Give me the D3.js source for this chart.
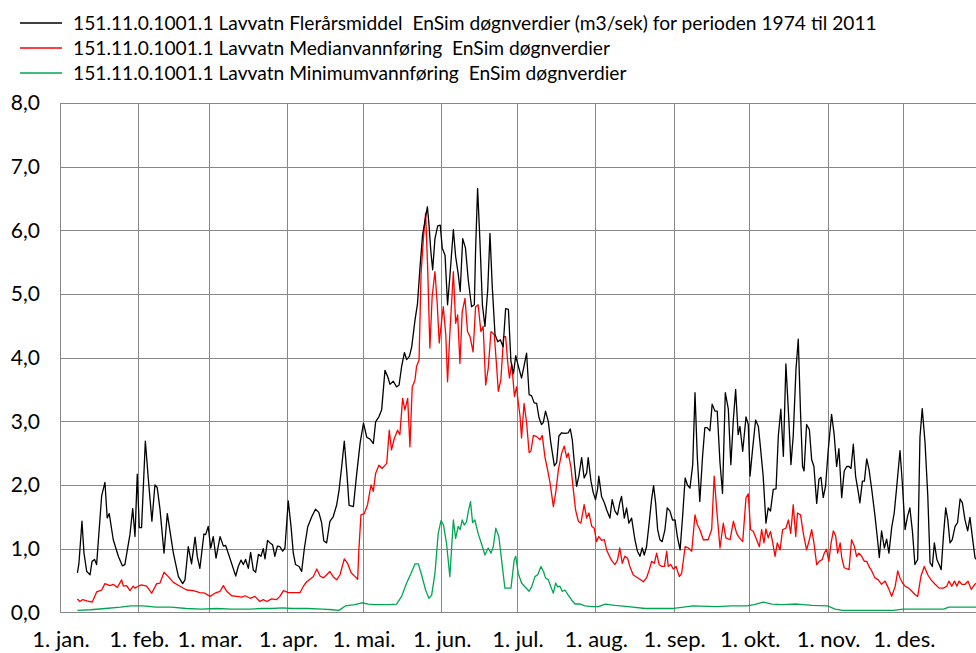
<!DOCTYPE html>
<html lang="no">
<head>
<meta charset="UTF-8" />
<script src="https://d3js.org/d3.v7.min.js"></script>
<title>Lavvatn døgnverdier</title>
<style>
  body { margin: 0; background: #fff; }
  text { font-family: Lato, "Open Sans", sans-serif; fill: #000; }
</style>
</head>
<body>
<script>
// day of year (0 = 1. jan.), value m3/s
var flerarsmiddel = [[6.9,0.62],[7.5,0.77],[8.7,1.43],[9.5,0.93],[10.6,0.64],[11.9,0.59],[12.7,0.80],[13.7,0.83],[14.5,0.75],[16.5,1.83],[17.8,2.04],[18.7,1.48],[19.5,1.55],[21.1,1.14],[23.1,0.88],[24.7,0.73],[25.7,0.75],[27.7,1.22],[28.8,1.63],[29.7,1.19],[30.6,2.17],[31.4,1.33],[32.3,1.33],[33.8,2.69],[35,2.09],[36.4,1.43],[37.6,2.0],[38.5,1.96],[39.6,1.62],[41.2,0.93],[42.5,1.55],[44.9,0.93],[46.9,0.56],[48.6,0.45],[49.5,0.51],[50.8,1.03],[52.1,0.76],[53.5,1.18],[54.4,0.87],[55.4,0.69],[57,1.23],[57.7,1.22],[58.7,1.35],[59.7,1.01],[60.7,1.19],[61.8,0.85],[63.4,1.19],[64.7,1.04],[65.6,1.05],[67.3,0.85],[68.6,0.69],[69.6,0.57],[70.6,0.72],[71.7,0.82],[72.6,0.75],[73.5,0.83],[74.6,0.69],[75.5,0.94],[76.6,0.66],[77.5,0.63],[78.6,0.91],[79.6,0.88],[80.5,1.0],[81.2,0.84],[82.2,1.13],[83.2,1.09],[84.2,1.06],[85.1,0.88],[86.1,1.04],[87.1,1.03],[88.2,0.96],[89.1,1.01],[90.4,1.75],[91.5,1.35],[92.4,0.93],[93.3,0.75],[94.7,0.72],[95.7,0.64],[96.8,1.01],[98.1,1.34],[99.7,1.5],[101.2,1.62],[102.5,1.57],[103.6,1.41],[104.5,1.12],[105.6,1.09],[106.9,1.43],[108.2,1.5],[109.6,1.69],[110.5,1.91],[111.6,2.3],[112.6,2.69],[113.6,2.2],[114.5,1.68],[116.2,1.66],[117.5,2.17],[118.9,2.67],[120.2,2.97],[121.5,2.75],[122.8,2.72],[124.1,2.65],[125,2.99],[126.3,3.07],[127.4,3.18],[128.7,3.8],[129.8,3.7],[130.7,3.58],[132,3.63],[133.3,3.54],[134.3,3.57],[135.3,3.86],[136.4,4.08],[137.3,3.97],[138.4,4.02],[139.3,4.17],[140.6,4.59],[141.6,4.85],[142.6,5.43],[143.6,5.93],[144.6,6.16],[145.5,6.37],[146.1,6.11],[146.9,5.66],[147.6,5.38],[148.5,5.87],[149.6,6.07],[150.6,6.08],[151.4,5.72],[152.5,5.61],[153.5,4.83],[154.4,5.27],[155.8,6.01],[156.7,5.59],[157.7,5.32],[158.5,5.04],[159.5,5.87],[160.6,5.72],[161.7,5.22],[163,4.8],[164.1,4.83],[164.6,5.69],[165.4,6.66],[166.3,5.85],[167.3,4.83],[168.3,4.49],[169.4,5.06],[170.3,5.95],[171.2,5.12],[172.3,4.36],[173.4,4.25],[174.4,4.28],[175.5,4.17],[176.5,4.77],[177.6,4.76],[178.6,3.94],[179.6,3.75],[180.5,4.03],[181.5,3.87],[182.8,3.68],[183.8,3.87],[184.8,4.07],[185.8,3.42],[186.8,3.4],[187.8,3.29],[188.8,3.28],[189.7,3.06],[190.7,2.95],[191.4,2.98],[192.3,3.16],[193.4,3.0],[194.4,2.66],[195.8,2.3],[196.7,2.35],[197.6,2.77],[198.7,2.82],[200,2.81],[201.3,2.82],[202.1,2.88],[202.9,2.71],[203.7,2.35],[204.6,1.98],[205.5,2.14],[206.6,2.43],[207.6,2.11],[208.6,2.19],[209.2,2.43],[210.3,2.06],[211.2,1.88],[212.1,1.77],[212.9,1.93],[213.4,2.14],[214.5,1.82],[215.6,1.72],[216.5,1.61],[217.8,1.48],[218.7,1.77],[219.8,1.59],[220.8,1.53],[221.7,1.72],[222.4,1.82],[223.5,1.48],[224.4,1.64],[225.3,1.4],[226.4,1.48],[227.7,1.14],[228.7,0.96],[229.7,0.88],[230.6,1.01],[231.4,0.9],[232.3,1.03],[233.2,1.35],[234.3,1.77],[235.1,1.99],[235.9,1.72],[236.7,1.3],[237.6,1.14],[238.5,1.11],[239.6,1.3],[240.5,1.64],[241.6,1.59],[242.6,1.45],[243.6,1.45],[244.5,1.19],[245.6,0.98],[246.6,1.51],[247.6,2.11],[248.5,2.0],[249.5,1.95],[250.6,2.32],[251.5,3.45],[252.4,2.45],[253.4,1.74],[254.5,2.45],[255.4,2.9],[256.3,2.9],[257.4,2.85],[258.3,3.27],[259.4,3.16],[260.3,3.16],[261.4,2.35],[262.4,1.87],[263.5,3.45],[264.7,3.19],[265.7,2.32],[266.7,3.03],[267.6,3.5],[268.6,2.79],[269.3,2.92],[270.4,2.53],[271.7,3.07],[272.6,2.95],[273.3,2.14],[274.3,2.56],[275.5,3.02],[276.6,2.92],[277.5,2.56],[278.5,2.14],[279.6,1.4],[280.5,1.64],[281.4,1.59],[282.5,1.93],[283.6,1.94],[284.5,2.77],[285.5,3.19],[286.5,2.45],[287.5,3.9],[288.6,3.08],[289.5,2.32],[290.4,2.77],[291.5,3.82],[292.4,4.29],[293.3,3.13],[294.1,2.29],[294.7,2.22],[295.7,2.95],[296.8,2.87],[297.7,2.4],[298.6,2.29],[299.7,1.71],[300.6,2.09],[301.4,2.12],[302.3,1.8],[303.2,1.98],[304.3,2.56],[305.6,3.11],[306.6,2.8],[307.6,2.29],[308.5,2.57],[309.6,1.8],[310.6,2.22],[311.6,2.29],[312.5,2.29],[313.3,2.26],[314.2,2.64],[315.1,2.14],[316.2,1.88],[316.8,1.72],[317.8,2.06],[318.6,2.06],[319.5,2.41],[320.4,2.25],[321.5,1.93],[322.8,1.51],[323.8,1.14],[324.5,0.86],[325.4,1.28],[326.5,1.01],[327.4,1.15],[328.3,0.93],[329.4,1.33],[330.4,1.56],[331.3,1.93],[332.7,2.54],[333.6,2.04],[334.7,1.3],[335.7,1.51],[336.6,1.64],[337.6,1.28],[338.6,0.75],[339.7,0.83],[340.6,2.75],[341.5,3.2],[342.6,2.67],[343.7,1.83],[344.6,0.78],[345.5,0.72],[346.3,1.09],[347.3,0.83],[348.2,0.75],[349,0.67],[349.9,1.2],[350.8,1.64],[351.6,1.46],[352.5,1.09],[353.4,1.14],[354.5,1.35],[355.5,1.41],[356.5,1.78],[357.4,1.72],[358.4,1.46],[359.5,1.28],[360.4,1.49],[361.3,1.2],[362.4,0.86],[363.5,0.8]];

var median = [[6.9,0.21],[7.9,0.17],[9,0.2],[10.6,0.18],[12.8,0.16],[14.5,0.32],[16.5,0.35],[17.8,0.45],[19.8,0.42],[21.1,0.44],[22.7,0.39],[24.4,0.51],[25.1,0.41],[26.4,0.42],[27.7,0.34],[29,0.41],[29.7,0.38],[31,0.41],[32.3,0.43],[34.3,0.41],[36.3,0.3],[38.3,0.45],[39.6,0.46],[41.2,0.63],[42.9,0.56],[44.9,0.47],[47.5,0.41],[50.2,0.35],[52.8,0.34],[55.4,0.31],[57.4,0.3],[59.4,0.25],[61.4,0.3],[63.4,0.33],[64.7,0.42],[66,0.33],[68,0.26],[70,0.25],[72,0.24],[73.3,0.26],[75.3,0.22],[77.2,0.25],[79.2,0.17],[80.5,0.2],[81.9,0.17],[83.8,0.21],[85.8,0.2],[87.1,0.25],[88.5,0.34],[90.4,0.31],[93.1,0.31],[95.1,0.31],[96.4,0.41],[97.7,0.48],[99,0.52],[100.3,0.56],[101.7,0.68],[103,0.57],[104.3,0.54],[105.6,0.59],[106.9,0.64],[108.2,0.56],[109.6,0.51],[110.9,0.59],[112.6,0.84],[113.9,0.77],[115.3,0.62],[116.9,0.56],[117.9,0.52],[118.4,1.0],[119.2,1.53],[120.5,1.55],[121.8,1.69],[123.2,2.0],[124.1,1.9],[125,2.18],[126.3,2.31],[127.6,2.26],[129.4,2.34],[130.4,2.86],[131.3,2.55],[132.4,2.73],[133.7,2.86],[134.6,2.79],[135.7,3.36],[136.6,3.18],[137.7,3.36],[138.6,2.6],[139.5,3.54],[140.6,3.65],[141.2,3.86],[142.2,3.96],[143,5.32],[143.9,5.85],[144.8,6.27],[145.6,5.43],[146.5,4.15],[147.4,4.96],[148.5,5.35],[149.4,4.85],[150.2,4.23],[150.9,4.49],[151.8,4.8],[152.8,4.36],[153.5,3.62],[154.4,4.38],[155.8,5.35],[156.7,4.54],[157.5,4.67],[158.4,3.91],[159.3,4.72],[160.4,4.93],[161.4,4.41],[162.4,4.33],[163.6,4.09],[164.6,4.8],[165.6,4.83],[166.7,4.41],[167.6,4.49],[168.6,3.57],[169.6,3.83],[170.7,4.41],[172,4.36],[172.9,3.88],[173.6,3.47],[174.6,3.65],[175.7,4.33],[176.5,4.33],[177.3,3.94],[178,3.68],[178.9,3.9],[180,3.39],[180.8,3.54],[181.5,3.3],[182.2,3.08],[182.8,2.74],[183.8,3.28],[184.8,2.98],[185.8,2.51],[186.5,2.53],[187.5,2.78],[188.8,2.76],[190.1,2.71],[191,2.78],[192.1,2.43],[193.1,2.24],[194.1,2.03],[195.4,1.66],[196.3,1.87],[197.4,2.24],[198.7,2.5],[199.7,2.61],[200.7,2.43],[201.3,2.5],[202.4,2.27],[203.3,1.93],[204.2,1.61],[205.3,1.43],[206.3,1.4],[207.6,1.69],[208.6,1.48],[209.5,1.56],[210.6,1.35],[211.6,1.32],[212.5,1.11],[213.4,1.19],[214.5,1.13],[215.6,1.14],[216.5,0.98],[217.4,0.9],[218.4,0.82],[219.8,0.75],[220.8,0.82],[221.7,1.01],[222.7,0.77],[223.7,0.88],[224.8,0.85],[225.7,0.72],[227,0.59],[228.4,0.55],[229.7,0.52],[231,0.48],[232.3,0.54],[233.4,0.67],[234.3,0.8],[235.4,0.77],[236.3,0.93],[237.3,0.75],[238.3,0.72],[239.4,0.72],[240.3,0.96],[240.9,0.72],[241.9,0.75],[242.9,0.68],[244,0.72],[245.3,0.56],[246.2,0.61],[247.6,1.03],[248.9,1.01],[250.2,0.96],[251.5,1.53],[252.4,1.38],[253.4,1.3],[254.8,1.14],[256.7,1.14],[258.1,1.3],[259.1,2.14],[260,1.66],[261.4,1.01],[262.7,1.4],[263.7,1.17],[265.4,1.14],[266.7,1.43],[268,1.24],[269.1,1.17],[270.4,1.11],[271.7,1.8],[272.6,1.86],[273.5,1.3],[274.6,1.27],[275.9,1.14],[277,1.03],[277.9,1.3],[278.8,1.09],[279.6,1.31],[280.5,1.17],[281.4,1.27],[282.2,1.11],[283.2,0.88],[284.1,1.09],[285.2,0.98],[286.2,1.3],[287.5,1.32],[288.5,1.45],[289.4,1.24],[290.4,1.69],[291.4,1.19],[292.1,1.56],[293.3,1.53],[294.4,1.24],[295.7,0.98],[296.8,1.14],[297.7,1.3],[298.6,1.09],[299.7,0.75],[300.7,0.8],[301.9,0.83],[302.7,0.93],[303.6,0.99],[304.5,0.8],[305.4,1.09],[306.3,1.28],[307.2,1.2],[308,0.93],[309,1.09],[309.6,0.86],[310.6,0.7],[312.5,0.67],[313.5,1.14],[314.6,1.04],[315.5,0.88],[316.4,0.93],[317.5,0.88],[318.6,0.8],[319.5,0.8],[320.4,0.72],[321.5,0.65],[322.8,0.54],[324.1,0.51],[325.4,0.44],[326.8,0.49],[328.1,0.38],[329.4,0.25],[330.8,0.41],[331.8,0.65],[332.7,0.54],[333.7,0.46],[334.7,0.41],[336.1,0.38],[337.4,0.33],[338.6,0.28],[339.7,0.25],[341,0.57],[342.3,0.72],[343.7,0.59],[345,0.51],[346.6,0.44],[348.2,0.38],[349.9,0.38],[351.2,0.41],[352.1,0.49],[353.2,0.41],[354.3,0.49],[355.2,0.41],[356.1,0.49],[357.2,0.44],[358.5,0.44],[359.6,0.49],[360.9,0.36],[362.3,0.44],[363.5,0.47]];

var minimum = [[6.9,0.03],[12,0.04],[18,0.06],[24,0.08],[28,0.1],[33,0.1],[38,0.08],[44,0.08],[50,0.06],[56,0.05],[62,0.06],[68,0.05],[75,0.05],[80,0.06],[84,0.06],[88,0.07],[92,0.06],[98,0.06],[104,0.05],[108,0.04],[110.5,0.03],[113,0.1],[116.8,0.12],[119.5,0.15],[122.1,0.13],[124.8,0.12],[130.1,0.12],[133.3,0.13],[135.3,0.25],[137.3,0.46],[139,0.61],[140.6,0.76],[141.9,0.76],[143.2,0.59],[144.8,0.35],[146.1,0.22],[147.2,0.27],[148.5,0.61],[149.8,1.24],[150.9,1.44],[151.9,1.37],[153.1,1.08],[154.4,0.56],[155.8,1.45],[156.7,1.16],[157.7,1.35],[158.5,1.3],[159.3,1.45],[160.1,1.37],[161,1.42],[161.7,1.58],[162.6,1.74],[163.4,1.41],[164.3,1.45],[165.6,1.24],[166.9,1.08],[168.3,0.9],[169.6,1.01],[170.7,0.93],[171.6,1.03],[172.6,1.32],[173.8,1.19],[174.9,0.82],[176.2,0.38],[177.3,0.38],[178.6,0.38],[179.9,0.82],[180.5,0.88],[181.5,0.61],[182.8,0.46],[184.4,0.39],[185.8,0.33],[186.8,0.4],[188.1,0.56],[189.2,0.59],[190.5,0.72],[191.5,0.64],[192.3,0.54],[193.4,0.51],[194.4,0.4],[195.4,0.3],[196.3,0.46],[197.1,0.4],[198,0.41],[198.9,0.33],[200,0.35],[201.3,0.27],[202.7,0.19],[204,0.13],[206,0.13],[208,0.1],[210.6,0.09],[213.3,0.09],[215.9,0.13],[219.8,0.11],[225.1,0.09],[231.8,0.06],[237,0.06],[243,0.06],[247,0.08],[250.7,0.1],[260,0.09],[266,0.1],[272,0.1],[275,0.12],[278.5,0.16],[282,0.13],[286,0.12],[292,0.13],[298,0.11],[304,0.1],[307,0.05],[310,0.03],[320,0.03],[330,0.03],[334,0.05],[345,0.05],[350,0.05],[352,0.08],[363.5,0.08]];

var monthDays = [0, 31, 59, 90, 120, 151, 181, 212, 243, 273, 304, 334];
var monthLabels = ["1. jan.", "1. feb.", "1. mar.", "1. apr.", "1. mai.", "1. jun.", "1. jul.", "1. aug.", "1. sep.", "1. okt.", "1. nov.", "1. des."];
var yTicks = [0, 1, 2, 3, 4, 5, 6, 7, 8];

var seriesNames = [
  "151.11.0.1001.1 Lavvatn Flerårsmiddel  EnSim døgnverdier (m3/sek) for perioden 1974 til 2011",
  "151.11.0.1001.1 Lavvatn Medianvannføring  EnSim døgnverdier",
  "151.11.0.1001.1 Lavvatn Minimumvannføring  EnSim døgnverdier"
];
var seriesColors = ["#000000", "#ff0000", "#00a651"];

var w = 976;
var h = 653;

var svg = d3.select("body").append("svg")
  .attr("width", w)
  .attr("height", h);

var x = d3.scaleLinear().domain([0, 334]).range([60, 903.3]);
var y = d3.scaleLinear().domain([0, 8]).range([612.3, 103]);

// gridlines
svg.append("g").selectAll("line.h")
  .data(yTicks)
  .enter().append("line")
  .attr("x1", x(0)).attr("x2", w)
  .attr("y1", function (d) { return Math.round(y(d)) + 0.5; })
  .attr("y2", function (d) { return Math.round(y(d)) + 0.5; })
  .attr("stroke", "#888")
  .attr("stroke-width", 1);

svg.append("g").selectAll("line.v")
  .data(monthDays)
  .enter().append("line")
  .attr("x1", function (d) { return Math.round(x(d)) + 0.5; })
  .attr("x2", function (d) { return Math.round(x(d)) + 0.5; })
  .attr("y1", y(8)).attr("y2", y(0))
  .attr("stroke", "#888")
  .attr("stroke-width", 1);

// y labels
svg.append("g").selectAll("text")
  .data(yTicks)
  .enter().append("text")
  .attr("x", 40)
  .attr("y", function (d) { return y(d); })
  .attr("dy", "0.35em")
  .attr("text-anchor", "end")
  .style("font-size", "21px")
  .text(function (d) { return d3.format(".1f")(d).replace(".", ","); });

// x labels
svg.append("g").selectAll("text")
  .data(monthDays)
  .enter().append("text")
  .attr("x", function (d) { return x(d) + 1; })
  .attr("y", 647)
  .attr("text-anchor", "middle")
  .style("font-size", "22px")
  .text(function (d, i) { return monthLabels[i]; });

var line = d3.line()
  .x(function (d) { return x(d[0]); })
  .y(function (d) { return y(d[1]); });

[minimum, median, flerarsmiddel].forEach(function (data, i) {
  svg.append("path")
    .datum(data)
    .attr("d", line)
    .attr("fill", "none")
    .attr("stroke", seriesColors[2 - i])
    .attr("stroke-width", 1.3)
    .attr("stroke-linejoin", "round");
});

// legend
var legend = svg.append("g").selectAll("g")
  .data(seriesNames)
  .enter().append("g")
  .attr("transform", function (d, i) { return "translate(0," + (23 + i * 25) + ")"; });

legend.append("line")
  .attr("x1", 20).attr("x2", 62)
  .attr("stroke", function (d, i) { return seriesColors[i]; })
  .attr("stroke-width", 1.3);

legend.append("text")
  .attr("x", 73)
  .attr("dy", "0.35em")
  .style("font-size", "19.2px")
  .style("white-space", "pre")
  .text(function (d) { return d; });
</script>
</body>
</html>
